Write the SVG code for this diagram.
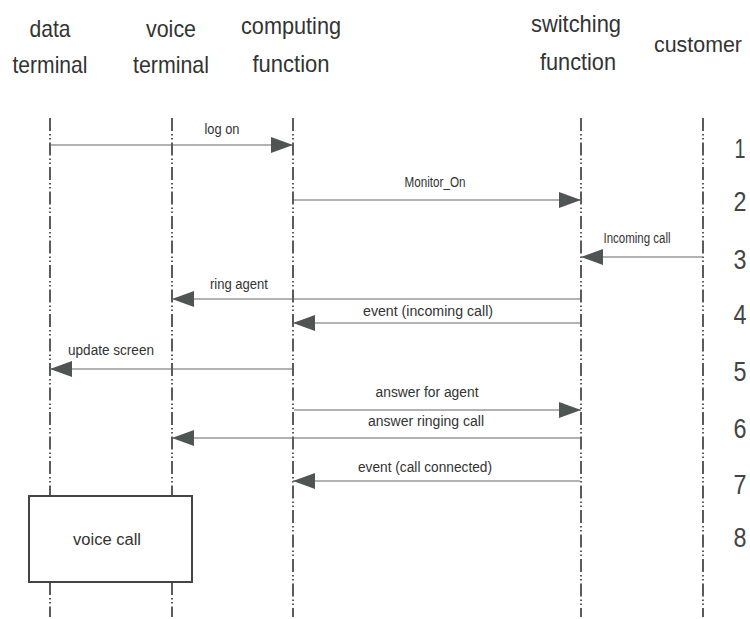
<svg xmlns="http://www.w3.org/2000/svg" width="750" height="619" viewBox="0 0 750 619">
  <style>
    .head { font-family: "Liberation Sans", Arial, sans-serif; font-size: 24px; fill: #333; text-anchor: middle; }
    .num { font-family: "Liberation Sans", Arial, sans-serif; font-size: 27px; fill: #444; text-anchor: middle; }
    .lbl { font-family: "Liberation Sans", Arial, sans-serif; font-size: 14px; fill: #333; text-anchor: middle; }
    .life { stroke: #333; stroke-width: 1.6; fill: none; stroke-dasharray: 13 3 1.5 2.5 1.5 3; }
    .msg { stroke: #666; stroke-width: 1.2; fill: none; marker-end: url(#head); }
  </style>
  <defs>
    <marker id="head" viewBox="0 0 22 16" refX="22" refY="8" markerWidth="22" markerHeight="16" markerUnits="userSpaceOnUse" orient="auto">
      <path d="M0,0 L22,8 L0,16 Z" fill="#4f5555"/>
    </marker>
  </defs>
  <rect width="750" height="619" fill="#fff"/>

  <!-- participants with lifelines -->
  <g id="data-terminal">
    <text class="head" x="50" y="37" textLength="41" lengthAdjust="spacingAndGlyphs">data</text>
    <text class="head" x="50" y="73" textLength="75" lengthAdjust="spacingAndGlyphs">terminal</text>
    <line class="life" x1="50" y1="118" x2="50" y2="496"/>
    <line class="life" x1="50" y1="582" x2="50" y2="617"/>
  </g>
  <g id="voice-terminal">
    <text class="head" x="171" y="37" textLength="50" lengthAdjust="spacingAndGlyphs">voice</text>
    <text class="head" x="171" y="73" textLength="76" lengthAdjust="spacingAndGlyphs">terminal</text>
    <line class="life" x1="172" y1="118" x2="172" y2="496"/>
    <line class="life" x1="172" y1="582" x2="172" y2="617"/>
  </g>
  <g id="computing-function">
    <text class="head" x="291" y="34" textLength="100" lengthAdjust="spacingAndGlyphs">computing</text>
    <text class="head" x="291" y="72" textLength="77" lengthAdjust="spacingAndGlyphs">function</text>
    <line class="life" x1="293" y1="118" x2="293" y2="617"/>
  </g>
  <g id="switching-function">
    <text class="head" x="576" y="32" textLength="90" lengthAdjust="spacingAndGlyphs">switching</text>
    <text class="head" x="578" y="70" textLength="76" lengthAdjust="spacingAndGlyphs">function</text>
    <line class="life" x1="581" y1="118" x2="581" y2="617"/>
  </g>
  <g id="customer">
    <text class="head" x="698" y="52" style="font-size:22px" textLength="88" lengthAdjust="spacingAndGlyphs">customer</text>
    <line class="life" x1="703" y1="118" x2="703" y2="617"/>
  </g>

  <!-- voice call activity spanning both terminals -->
  <g id="voice-call">
    <rect x="29" y="496" width="163" height="86" fill="#fff" stroke="#444" stroke-width="2"/>
    <text class="lbl" x="107" y="545" style="font-size:16px" textLength="68" lengthAdjust="spacingAndGlyphs">voice call</text>
  </g>

  <!-- messages -->
  <g id="connectors">
    <line class="msg" x1="51" y1="145" x2="293" y2="145"/>
    <text class="lbl" x="222" y="134" textLength="35" lengthAdjust="spacingAndGlyphs">log on</text>

    <line class="msg" x1="294" y1="200" x2="581" y2="200"/>
    <text class="lbl" x="435" y="187" textLength="61" lengthAdjust="spacingAndGlyphs">Monitor_On</text>

    <line class="msg" x1="702" y1="257" x2="581" y2="257"/>
    <text class="lbl" x="637" y="243" textLength="67" lengthAdjust="spacingAndGlyphs">Incoming call</text>

    <line class="msg" x1="580" y1="299" x2="172" y2="299"/>
    <text class="lbl" x="239" y="289" textLength="58" lengthAdjust="spacingAndGlyphs">ring agent</text>

    <line class="msg" x1="580" y1="323" x2="293" y2="323"/>
    <text class="lbl" x="428" y="316" textLength="130" lengthAdjust="spacingAndGlyphs">event (incoming call)</text>

    <line class="msg" x1="292" y1="369" x2="50" y2="369"/>
    <text class="lbl" x="111" y="355" textLength="86" lengthAdjust="spacingAndGlyphs">update screen</text>

    <line class="msg" x1="294" y1="410" x2="581" y2="410"/>
    <text class="lbl" x="427" y="397" textLength="103" lengthAdjust="spacingAndGlyphs">answer for agent</text>

    <line class="msg" x1="580" y1="438" x2="172" y2="438"/>
    <text class="lbl" x="426" y="426" textLength="116" lengthAdjust="spacingAndGlyphs">answer ringing call</text>

    <line class="msg" x1="580" y1="481" x2="293" y2="481"/>
    <text class="lbl" x="425" y="472" textLength="134" lengthAdjust="spacingAndGlyphs">event (call connected)</text>
  </g>

  <!-- step numbers -->
  <g id="steps">
    <text class="num" x="740" y="158" textLength="11" lengthAdjust="spacingAndGlyphs">1</text>
    <text class="num" x="740" y="211" textLength="13" lengthAdjust="spacingAndGlyphs">2</text>
    <text class="num" x="740" y="269" textLength="13" lengthAdjust="spacingAndGlyphs">3</text>
    <text class="num" x="740" y="324" textLength="13" lengthAdjust="spacingAndGlyphs">4</text>
    <text class="num" x="740" y="381" textLength="13" lengthAdjust="spacingAndGlyphs">5</text>
    <text class="num" x="740" y="438" textLength="13" lengthAdjust="spacingAndGlyphs">6</text>
    <text class="num" x="740" y="494" textLength="13" lengthAdjust="spacingAndGlyphs">7</text>
    <text class="num" x="740" y="547" textLength="13" lengthAdjust="spacingAndGlyphs">8</text>
  </g>
</svg>
